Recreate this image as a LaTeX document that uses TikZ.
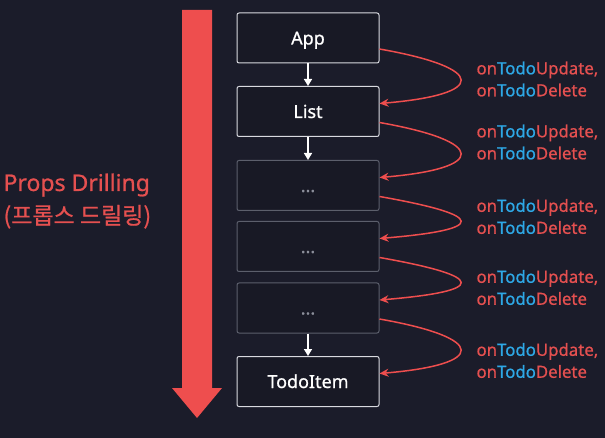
\documentclass[tikz,border=0pt]{standalone}
\usepackage{fontspec}
\setmainfont{Noto Sans}[FakeBold=0.8]
\newfontfamily\krfont{Noto Sans CJK KR}[FakeBold=0.8]
\usetikzlibrary{arrows.meta,positioning}
\definecolor{bgnavy}{HTML}{1B1C2A}
\definecolor{boxfill}{HTML}{181925}
\definecolor{propred}{HTML}{EE4E4E}
\definecolor{labelred}{HTML}{E55050}
\definecolor{todoblue}{HTML}{2EA8E6}
\definecolor{boxline}{HTML}{D9DAE0}
\definecolor{dimline}{HTML}{5C5F6C}
\definecolor{dimtext}{HTML}{8C8F9B}
\newcommand{\handler}[1]{\textcolor{labelred}{on}\textcolor{todoblue}{Todo}\textcolor{labelred}{#1}}

\begin{document}
\begin{tikzpicture}[x=1pt,y=-1pt,
                    comp/.style={rectangle,rounded corners=2pt,draw=boxline,line width=1pt,fill=boxfill,text=white,minimum width=142pt,minimum height=50pt,text height=14pt,text depth=1pt,font=\fontsize{18}{20}\selectfont},
                    hidden/.style={comp,draw=dimline,text=dimtext},
                    down/.style={-{Triangle[length=7pt,width=8pt]},white,line width=1.5pt},
                    pass/.style={-{Stealth[length=9pt,width=8pt]},propred,line width=1.5pt},
                    props/.style={align=left,anchor=west,font=\fontsize{16.8}{22}\selectfont}
                ]
                    \fill[bgnavy] (0,0) rectangle (605,438);
                    \useasboundingbox (0,0) rectangle (605,438);
                    \fill[propred] (182,10) -- (212,10) -- (212,388) -- (222,388) -- (197,418) -- (172,388) -- (182,388) -- cycle;
                    \node[anchor=west,align=left,text=labelred,font=\fontsize{23}{33}\selectfont] (drill) at (0,201) {Props Drilling\\{\krfont(프롭스 드릴링)}};
                    \node[comp] (app) at (308,38) {App};
                    \node[comp] (list) at (308,111.5) {List};
                    \node[hidden] (mid1) at (308,185.5) {...};
                    \node[hidden] (mid2) at (308,246.5) {...};
                    \node[hidden] (mid3) at (308,308) {...};
                    \node[comp] (item) at (308,381.5) {TodoItem};
                    \draw[down] (app) -- (list);
                    \draw[down] (list) -- (mid1);
                    \draw[down] (mid3) -- (item);
                    \foreach \from/\to in {app/list,list/mid1,mid1/mid2,mid2/mid3,mid3/item}
                        {
                        \draw[pass] ([yshift=-11pt]\from.east) .. controls +(108,19) and +(108,-9) .. ([yshift=8pt]\to.east);
                    }
                    \foreach \i/\y in {1/79,2/142,3/216.5,4/287.5,5/360.5}
                        {
                        \node[props] (props\i) at (473,\y) {\handler{Update,}\\\handler{Delete}};
                    }
                \end{tikzpicture}
\end{document}
